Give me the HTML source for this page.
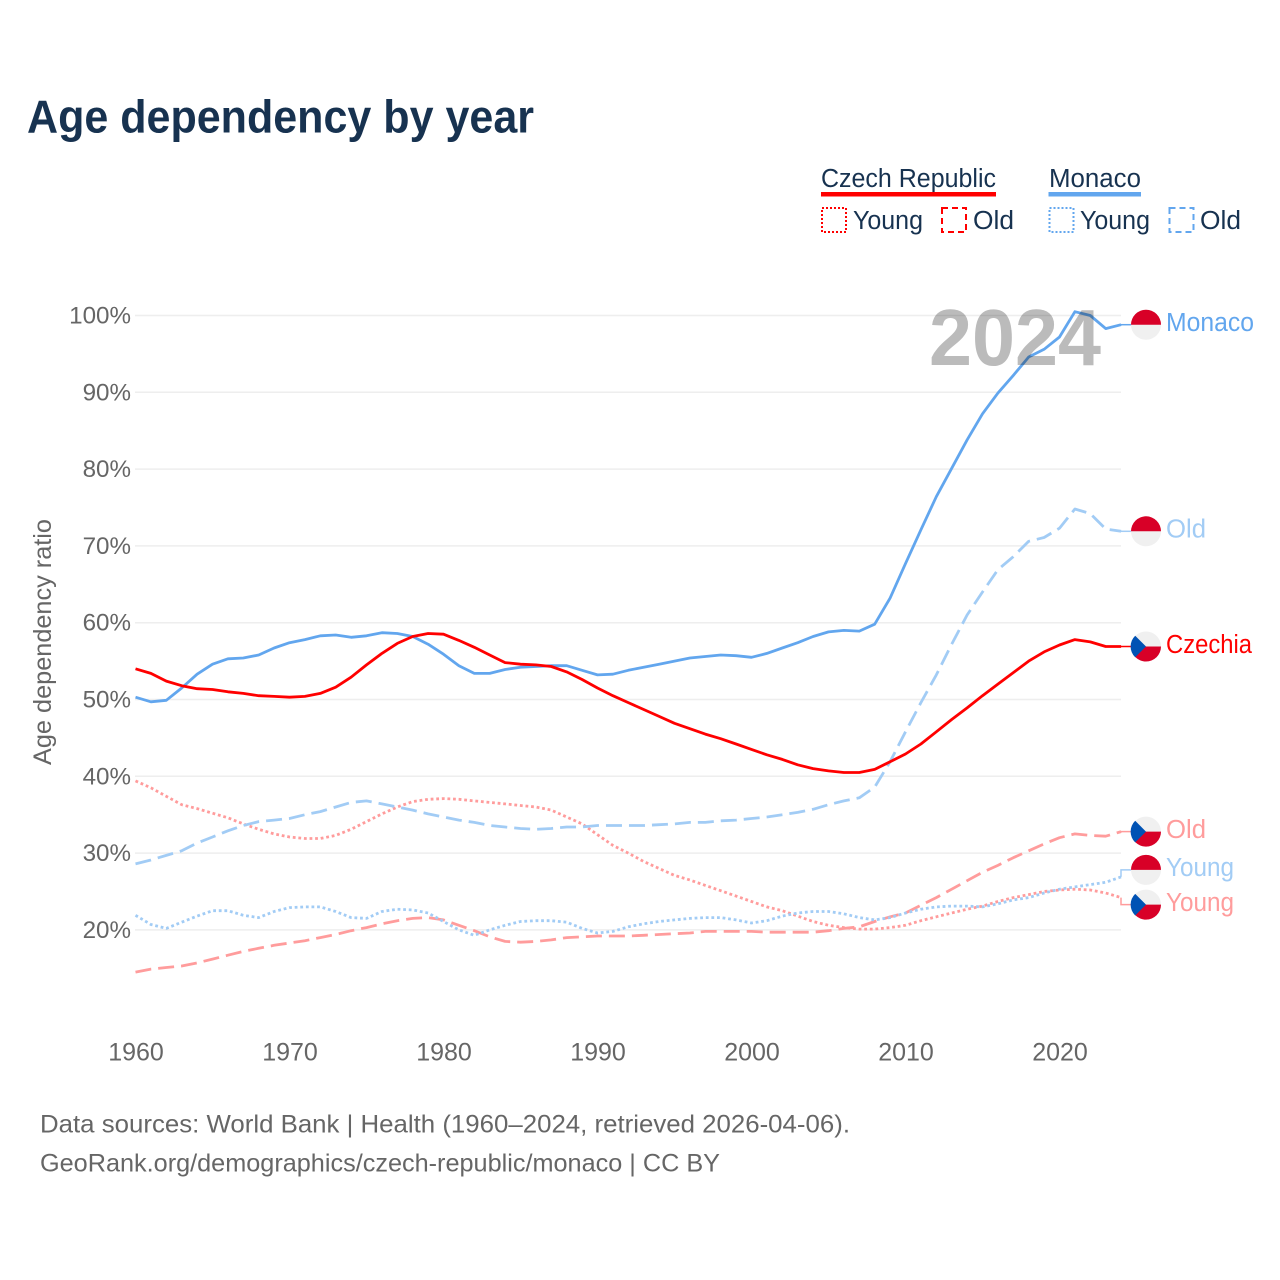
<!DOCTYPE html>
<html lang="en">
<head>
<meta charset="utf-8">
<title>Age dependency by year</title>
<style>
html,body{margin:0;padding:0;background:#fff}
svg{display:block;font-family:"Liberation Sans",sans-serif}
.legend{fill:#173250;font-size:25.5px}
.foot{fill:#666;font-size:25px}
</style>
</head>
<body>
<svg id="chart" xmlns="http://www.w3.org/2000/svg" width="1280" height="1280" viewBox="0 0 1280 1280">
  <rect width="1280" height="1280" fill="#fff"/>
  <text x="27" y="132.5" font-size="46" font-weight="700" fill="#173250" textLength="507" lengthAdjust="spacingAndGlyphs">Age dependency by year</text>

  <g>
    <text class="legend" x="821" y="187" textLength="175" lengthAdjust="spacingAndGlyphs">Czech Republic</text>
    <rect x="821" y="192" width="175" height="4.5" fill="#ff0000"/>
    <text class="legend" x="1049" y="187" textLength="92" lengthAdjust="spacingAndGlyphs">Monaco</text>
    <rect x="1048.5" y="192" width="92.5" height="4.5" fill="#62a6ee"/>

    <rect x="822" y="208" width="24" height="24" fill="none" stroke="#ff0000" stroke-width="2" stroke-dasharray="2 2"/>
    <text class="legend" x="853" y="229" textLength="70" lengthAdjust="spacingAndGlyphs">Young</text>
    <rect x="942" y="208" width="24" height="24" fill="none" stroke="#ff0000" stroke-width="2" stroke-dasharray="6 4"/>
    <text class="legend" x="973" y="229" textLength="41" lengthAdjust="spacingAndGlyphs">Old</text>

    <rect x="1049.5" y="208" width="24" height="24" fill="none" stroke="#62a6ee" stroke-width="2" stroke-dasharray="2 2"/>
    <text class="legend" x="1080" y="229" textLength="70" lengthAdjust="spacingAndGlyphs">Young</text>
    <rect x="1169.5" y="208" width="24" height="24" fill="none" stroke="#62a6ee" stroke-width="2" stroke-dasharray="6 4"/>
    <text class="legend" x="1200" y="229" textLength="41" lengthAdjust="spacingAndGlyphs">Old</text>
  </g>

  <g id="grid"></g>
  <g id="yticks"></g>
  <g id="xticks"></g>
  <text transform="translate(51,765) rotate(-90)" font-size="25" fill="#666" textLength="246" lengthAdjust="spacingAndGlyphs">Age dependency ratio</text>
  <g id="series"></g>
  <g id="endlabels"></g>
  <text x="929" y="365" font-size="80" font-weight="700" fill="#bbbbbb" textLength="172" lengthAdjust="spacingAndGlyphs" style="mix-blend-mode:multiply">2024</text>

  <text class="foot" x="40" y="1132.5" textLength="810" lengthAdjust="spacingAndGlyphs">Data sources: World Bank | Health (1960–2024, retrieved 2026-04-06).</text>
  <text class="foot" x="40" y="1171.5" textLength="680" lengthAdjust="spacingAndGlyphs">GeoRank.org/demographics/czech-republic/monaco | CC BY</text>
</svg>
<script>
const startYear = 1960;
const xTickYears = [1960, 1970, 1980, 1990, 2000, 2010, 2020];
const yTickValues = [20, 30, 40, 50, 60, 70, 80, 90, 100];

const czechTotal = [54.0,53.4,52.4,51.8,51.4,51.3,51.0,50.8,50.5,50.4,50.3,50.4,50.8,51.6,52.9,54.5,56.0,57.3,58.2,58.6,58.5,57.7,56.8,55.8,54.8,54.6,54.5,54.3,53.6,52.6,51.5,50.5,49.6,48.7,47.8,46.9,46.2,45.5,44.9,44.2,43.5,42.8,42.2,41.5,41.0,40.7,40.5,40.5,40.9,41.9,42.9,44.2,45.8,47.4,48.9,50.5,52.0,53.5,55.0,56.2,57.1,57.8,57.5,56.9,56.9];
const monacoTotal = [50.3,49.7,49.9,51.5,53.3,54.6,55.3,55.4,55.8,56.7,57.4,57.8,58.3,58.4,58.1,58.3,58.7,58.6,58.2,57.2,55.9,54.4,53.4,53.4,53.9,54.2,54.3,54.4,54.4,53.8,53.2,53.3,53.8,54.2,54.6,55.0,55.4,55.6,55.8,55.7,55.5,56.0,56.7,57.4,58.2,58.8,59.0,58.9,59.8,63.2,67.7,72.1,76.4,80.1,83.8,87.2,89.9,92.2,94.6,95.6,97.2,100.5,100.0,98.3,98.8];
const monacoOld = [28.6,29.1,29.7,30.3,31.3,32.1,32.9,33.6,34.1,34.3,34.5,35.0,35.4,36.0,36.6,36.8,36.4,36.0,35.6,35.1,34.7,34.3,34.0,33.6,33.4,33.2,33.1,33.2,33.4,33.4,33.6,33.6,33.6,33.6,33.7,33.8,34.0,34.0,34.2,34.3,34.5,34.7,35.0,35.3,35.7,36.3,36.8,37.2,38.6,41.9,45.8,49.6,53.2,57.2,61.0,64.0,66.9,68.6,70.6,71.1,72.3,74.8,74.2,72.2,71.9];
const czechYoung = [39.4,38.5,37.4,36.3,35.8,35.2,34.6,33.8,33.1,32.5,32.1,31.9,31.9,32.3,33.1,34.1,35.1,36.0,36.7,37.0,37.1,37.0,36.8,36.6,36.4,36.2,36.0,35.6,34.7,33.8,32.4,31.0,30.0,28.9,28.0,27.1,26.5,25.8,25.1,24.4,23.7,23.0,22.5,21.8,21.1,20.6,20.3,20.1,20.1,20.3,20.6,21.2,21.7,22.2,22.7,23.1,23.7,24.2,24.6,25.0,25.2,25.3,25.2,24.8,24.2];
const monacoYoung = [21.9,20.7,20.2,21.0,21.8,22.5,22.5,21.9,21.6,22.4,22.9,23.0,23.0,22.4,21.6,21.5,22.4,22.7,22.6,22.2,21.1,20.0,19.3,20.0,20.6,21.1,21.2,21.2,21.0,20.2,19.6,19.8,20.4,20.8,21.1,21.3,21.5,21.6,21.6,21.3,20.9,21.2,21.8,22.2,22.4,22.4,22.1,21.6,21.3,21.6,22.2,22.7,23.0,23.1,23.1,23.0,23.4,23.9,24.2,24.8,25.3,25.6,25.9,26.2,26.9];
const czechOld = [14.5,14.9,15.1,15.3,15.7,16.2,16.7,17.2,17.6,18.0,18.3,18.6,19.0,19.4,19.9,20.3,20.8,21.2,21.5,21.6,21.3,20.6,19.9,19.1,18.5,18.4,18.5,18.7,19.0,19.1,19.2,19.2,19.2,19.3,19.4,19.5,19.6,19.8,19.8,19.8,19.8,19.7,19.7,19.7,19.7,19.9,20.2,20.4,21.1,21.7,22.2,23.2,24.2,25.3,26.4,27.5,28.4,29.4,30.3,31.2,32.0,32.5,32.3,32.2,32.8];

const NS = 'http://www.w3.org/2000/svg';
const RED = '#ff0000', BLUE = '#62a6ee', PINK = '#ff9c9c', SKY = '#a2ccf5';
const TICK = '#666666';
const FLAG_RED = '#d80027', FLAG_WHITE = '#f0f0f0', FLAG_BLUE = '#0052b4';

function xScale(year) { return 135.5 + (year - 1960) * 15.4; }
function yScale(value) { return 315.5 + (100 - value) * 7.68; }

function make(tag, attrs, parent, text) {
  const el = document.createElementNS(NS, tag);
  for (const k in attrs) el.setAttribute(k, attrs[k]);
  if (text !== undefined) el.textContent = text;
  parent.appendChild(el);
  return el;
}

const gridG = document.getElementById('grid');
const yG = document.getElementById('yticks');
yTickValues.forEach(function (v) {
  const line = make('line', {x1: 135, x2: 1121, y1: yScale(v), y2: yScale(v), stroke: '#eeeeee', 'stroke-width': 1.5}, gridG);
  
  
  const label = make('text', {x: 131, y: yScale(v) + 8, 'text-anchor': 'end', 'font-size': 24.2, fill: TICK}, yG, v + '%');
  
  
});

const xG = document.getElementById('xticks');
xTickYears.forEach(function (year) {
  const label = make('text', {x: xScale(year) + 0.5, y: 1060.5, 'text-anchor': 'middle', 'font-size': 25, fill: TICK}, xG, String(year));
  
  
});

const seriesG = document.getElementById('series');
const labelsG = document.getElementById('endlabels');

function drawLine(values, color, dash, name) {
  const pts = values.map(function (v, i) {
    return xScale(startYear + i).toFixed(1) + ',' + yScale(v).toFixed(1);
  }).join(' ');
  const attrs = {points: pts, fill: 'none', stroke: color, 'stroke-width': 2.8, 'stroke-linejoin': 'round'};
  if (dash) attrs['stroke-dasharray'] = dash;
  const el = make('polyline', attrs, seriesG);
  
  
}

function drawFlag(kind, cy, name) {
  const cx = 1146, r = 15;
  const g = make('g', {}, labelsG);
  
  
  make('circle', {cx: cx, cy: cy, r: r, fill: FLAG_WHITE}, g);
  if (kind === 'monaco') {
    make('path', {d: 'M' + (cx - r) + ',' + cy + ' A' + r + ',' + r + ' 0 0 1 ' + (cx + r) + ',' + cy + ' Z', fill: FLAG_RED}, g);
  } else {
    make('path', {d: 'M' + (cx - r) + ',' + cy + ' A' + r + ',' + r + ' 0 0 0 ' + (cx + r) + ',' + cy + ' Z', fill: FLAG_RED}, g);
    const d = r * 0.72;
    make('path', {d: 'M' + (cx - d) + ',' + (cy - d) + ' L' + cx + ',' + cy + ' L' + (cx - d) + ',' + (cy + d) + ' A' + r + ',' + r + ' 0 0 1 ' + (cx - d) + ',' + (cy - d) + ' Z', fill: FLAG_BLUE}, g);
  }
}

function drawEnd(values, color, kind, text, width, nudge, name) {
  const endY = yScale(values[values.length - 1]);
  const flagY = endY + nudge;
  const leader = make('polyline', {
    points: '1121,' + endY.toFixed(1) + ' 1121,' + flagY.toFixed(1) + ' 1132,' + flagY.toFixed(1),
    fill: 'none', stroke: color, 'stroke-width': 1.5
  }, labelsG);
  
  
  drawFlag(kind, flagY, name + '-flag');
  const label = make('text', {
    x: 1166, y: flagY + 6.3, 'font-size': 25.5, fill: color,
    textLength: width, lengthAdjust: 'spacingAndGlyphs'
  }, labelsG, text);
  
  
}

drawLine(czechOld, PINK, '16 7', 'czech-old-line');
drawLine(czechYoung, PINK, '2.8 2.8', 'czech-young-line');
drawLine(monacoOld, SKY, '16 7', 'monaco-old-line');
drawLine(monacoYoung, SKY, '2.8 2.8', 'monaco-young-line');
drawLine(monacoTotal, BLUE, '', 'monaco-total-line');
drawLine(czechTotal, RED, '', 'czech-total-line');

drawEnd(monacoTotal, BLUE, 'monaco', 'Monaco', 88, 0, 'monaco-total');
drawEnd(monacoOld, SKY, 'monaco', 'Old', 40, 0, 'monaco-old');
drawEnd(czechTotal, RED, 'czech', 'Czechia', 86, 0, 'czech-total');
drawEnd(czechOld, PINK, 'czech', 'Old', 40, 0, 'czech-old');
drawEnd(monacoYoung, SKY, 'monaco', 'Young', 68, -7, 'monaco-young');
drawEnd(czechYoung, PINK, 'czech', 'Young', 68, 7, 'czech-young');
</script>
</body>
</html>
